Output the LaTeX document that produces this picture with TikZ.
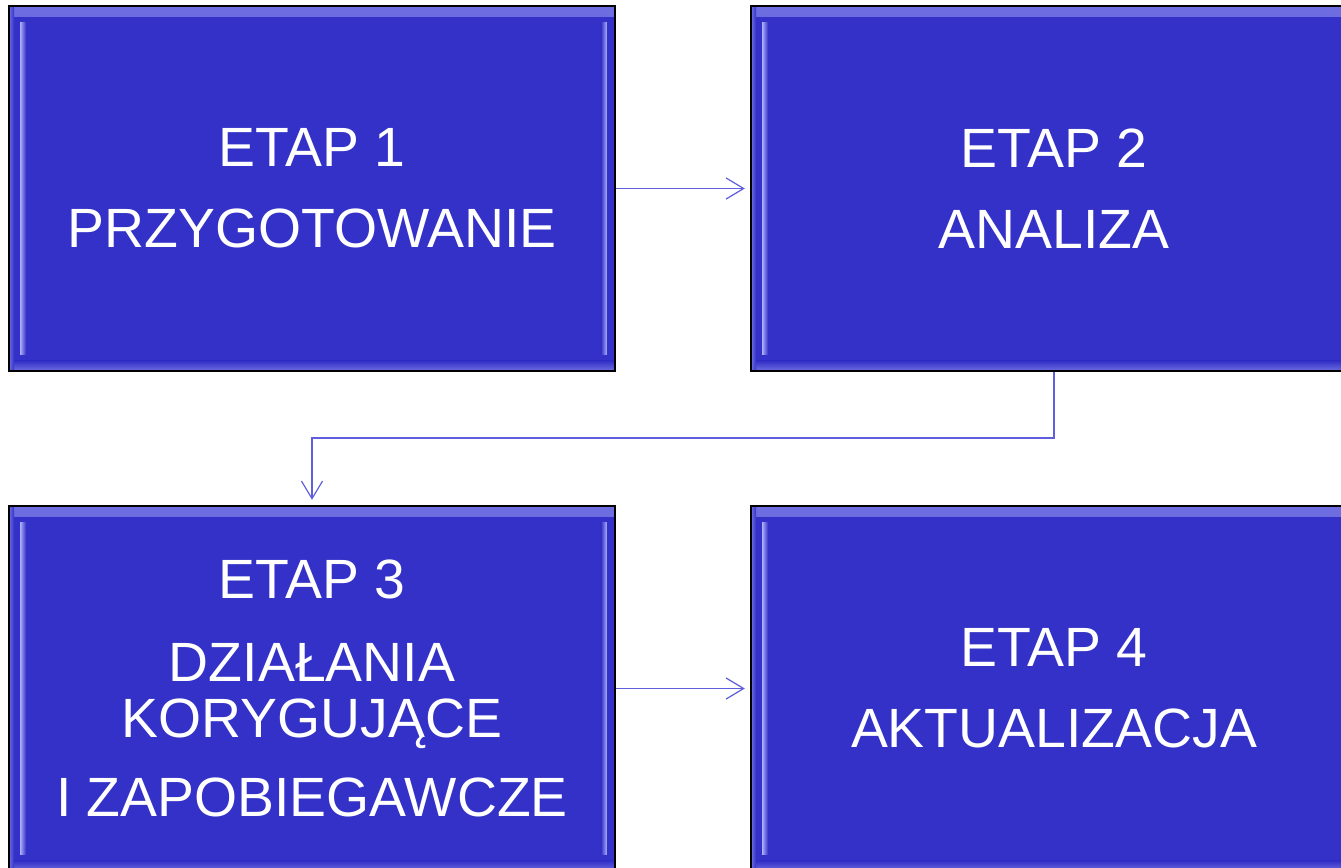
\documentclass[tikz,border=0pt]{standalone}
\usepackage{fontspec}
\setmainfont{Liberation Sans}
\usetikzlibrary{arrows.meta}
\definecolor{boxblue}{RGB}{51,49,199}
\definecolor{bevtop}{RGB}{110,110,225}
\definecolor{bevstrip}{RGB}{175,175,250}
\definecolor{arrowblue}{RGB}{95,95,222}
\tikzset{
  stage/.style={draw=black, line width=1.1pt, fill=boxblue,
    minimum width=12.12cm, minimum height=7.3cm, inner sep=0pt,
    text=white, align=center,
    font=\fontsize{31.5}{32}\selectfont,
    path picture={
      \shade[top color=bevtop, bottom color=boxblue]
        (path picture bounding box.north west) rectangle ([yshift=-0.2cm]path picture bounding box.north east);
      \shade[bottom color=bevtop, top color=boxblue]
        (path picture bounding box.south west) rectangle ([yshift=0.2cm]path picture bounding box.south east);
      \shade[left color=bevstrip, right color=boxblue]
        ([xshift=0.22cm,yshift=-0.32cm]path picture bounding box.north west) rectangle ([xshift=0.34cm,yshift=0.32cm]path picture bounding box.south west);
      \shade[right color=bevstrip, left color=boxblue]
        ([xshift=-0.16cm,yshift=-0.32cm]path picture bounding box.north east) rectangle ([xshift=-0.28cm,yshift=0.32cm]path picture bounding box.south east);
      \shade[left color=bevtop, right color=boxblue]
        (path picture bounding box.north west) rectangle ([xshift=0.1cm]path picture bounding box.south west);
    }},
  flow/.style={draw=arrowblue, line width=0.7pt,
    -{Straight Barb[length=10pt,width=12pt,line width=0.7pt]}, shorten >=3pt}
}
\begin{document}
\begin{tikzpicture}[x=0.02cm, y=-0.02cm]
\useasboundingbox (0,0) rectangle (1341,867);
\node[stage] (s1) at (312,188.5) {ETAP 1\\[14pt]PRZYGOTOWANIE};
\node[stage] (s2) at (1054,188.5) {ETAP 2\\[14pt]ANALIZA};
\node[stage] (s3) at (312,688.5) {ETAP 3\\[15pt]DZIAŁANIA\\KORYGUJĄCE\\[13pt]I ZAPOBIEGAWCZE};
\node[stage] (s4) at (1054,688.5) {ETAP 4\\[14pt]AKTUALIZACJA};
\coordinate (bend) at (1054,438);
\draw[flow] (s1.east) -- (s2.west);
\draw[flow] (s2.south) -- (bend) -| (s3.north);
\draw[flow] (s3.east) -- (s4.west);
\end{tikzpicture}
\end{document}
